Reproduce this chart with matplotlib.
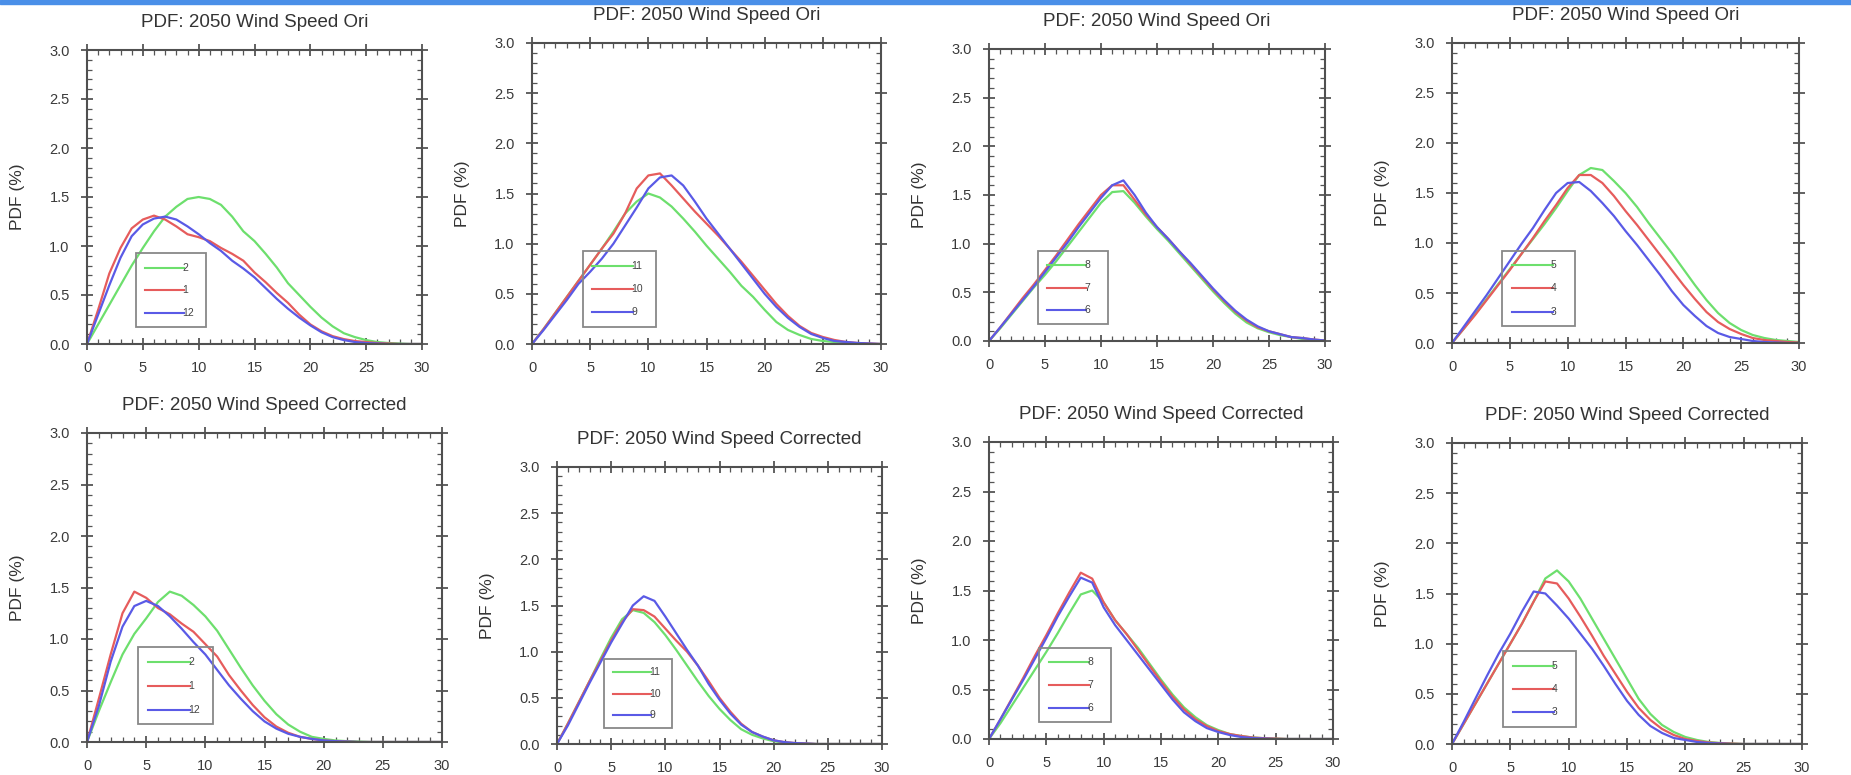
import numpy as np
import matplotlib
matplotlib.use("Agg")
import matplotlib.pyplot as plt
from matplotlib.patches import Rectangle
from matplotlib.ticker import MultipleLocator

plt.rcParams['font.family'] = ['Liberation Sans', 'DejaVu Sans']

# wind speed bins (m/s)
wind = np.arange(0, 31)

# ---- top row: original PDFs (%) ----
ori_2 = [0, 0.2, 0.4, 0.6, 0.8, 0.98, 1.15, 1.3, 1.4, 1.48, 1.5, 1.48, 1.42, 1.3, 1.15, 1.05,
         0.92, 0.78, 0.62, 0.5, 0.38, 0.27, 0.18, 0.11, 0.07, 0.04, 0.02, 0.01, 0.005, 0, 0]
ori_1 = [0, 0.35, 0.72, 0.98, 1.18, 1.27, 1.31, 1.27, 1.2, 1.12, 1.09, 1.05, 0.98, 0.92, 0.85, 0.73,
         0.63, 0.52, 0.42, 0.3, 0.2, 0.13, 0.08, 0.05, 0.03, 0.02, 0.01, 0.005, 0, 0, 0]
ori_12 = [0, 0.3, 0.6, 0.88, 1.1, 1.22, 1.28, 1.3, 1.27, 1.2, 1.12, 1.03, 0.95, 0.85, 0.77, 0.68,
          0.57, 0.46, 0.36, 0.27, 0.19, 0.12, 0.07, 0.04, 0.02, 0.01, 0.005, 0, 0, 0, 0]

ori_11 = [0, 0.15, 0.31, 0.47, 0.63, 0.79, 0.95, 1.12, 1.3, 1.42, 1.5, 1.46, 1.37, 1.25, 1.12, 0.98,
          0.85, 0.72, 0.58, 0.47, 0.34, 0.22, 0.14, 0.09, 0.05, 0.03, 0.02, 0.01, 0.005, 0, 0]
ori_10 = [0, 0.15, 0.31, 0.47, 0.63, 0.79, 0.95, 1.1, 1.3, 1.55, 1.68, 1.7, 1.58, 1.45, 1.32, 1.2,
          1.08, 0.95, 0.82, 0.68, 0.54, 0.4, 0.28, 0.18, 0.11, 0.07, 0.04, 0.02, 0.01, 0.005, 0]
ori_9 = [0, 0.14, 0.29, 0.44, 0.6, 0.72, 0.85, 1.0, 1.18, 1.36, 1.55, 1.66, 1.68, 1.58, 1.42, 1.25,
         1.1, 0.95, 0.8, 0.65, 0.5, 0.37, 0.26, 0.17, 0.1, 0.06, 0.03, 0.02, 0.01, 0.005, 0]

ori_8 = [0, 0.13, 0.27, 0.41, 0.55, 0.68, 0.82, 0.97, 1.12, 1.27, 1.42, 1.53, 1.54, 1.42, 1.28, 1.15,
         1.03, 0.9, 0.77, 0.64, 0.51, 0.39, 0.28, 0.19, 0.13, 0.09, 0.06, 0.04, 0.02, 0.01, 0.005]
ori_7 = [0, 0.14, 0.29, 0.44, 0.58, 0.73, 0.88, 1.04, 1.2, 1.35, 1.5, 1.6, 1.6, 1.45, 1.3, 1.17,
         1.05, 0.92, 0.79, 0.66, 0.53, 0.41, 0.3, 0.21, 0.14, 0.1, 0.07, 0.04, 0.03, 0.015, 0.005]
ori_6 = [0, 0.14, 0.28, 0.42, 0.56, 0.71, 0.86, 1.01, 1.17, 1.32, 1.47, 1.6, 1.65, 1.5, 1.32, 1.17,
         1.05, 0.92, 0.8, 0.67, 0.54, 0.42, 0.31, 0.22, 0.15, 0.1, 0.07, 0.04, 0.03, 0.015, 0.005]

ori_5 = [0, 0.14, 0.29, 0.44, 0.59, 0.74, 0.89, 1.04, 1.19, 1.35, 1.52, 1.68, 1.75, 1.73, 1.62, 1.5,
         1.36, 1.2, 1.05, 0.9, 0.74, 0.58, 0.43, 0.3, 0.2, 0.13, 0.08, 0.05, 0.03, 0.02, 0.01]
ori_4 = [0, 0.14, 0.28, 0.43, 0.58, 0.73, 0.89, 1.05, 1.22, 1.38, 1.55, 1.68, 1.68, 1.6, 1.47, 1.32,
         1.18, 1.03, 0.88, 0.73, 0.58, 0.44, 0.31, 0.21, 0.14, 0.09, 0.05, 0.03, 0.02, 0.01, 0.005]
ori_3 = [0, 0.16, 0.32, 0.48, 0.65, 0.82, 0.99, 1.15, 1.33, 1.5, 1.6, 1.61, 1.52, 1.4, 1.27, 1.12,
         0.98, 0.83, 0.68, 0.52, 0.38, 0.27, 0.17, 0.1, 0.06, 0.04, 0.02, 0.01, 0.005, 0, 0]

# ---- bottom row: corrected PDFs (%) ----
cor_2 = [0, 0.3, 0.58, 0.85, 1.05, 1.2, 1.36, 1.46, 1.42, 1.33, 1.22, 1.08, 0.9, 0.72, 0.55, 0.4,
         0.27, 0.17, 0.1, 0.05, 0.03, 0.015, 0.008, 0.004, 0, 0, 0, 0, 0, 0, 0]
cor_1 = [0, 0.42, 0.85, 1.25, 1.46, 1.4, 1.3, 1.24, 1.15, 1.07, 0.95, 0.83, 0.65, 0.5, 0.36, 0.24,
         0.15, 0.09, 0.05, 0.03, 0.015, 0.008, 0.004, 0, 0, 0, 0, 0, 0, 0, 0]
cor_12 = [0, 0.35, 0.78, 1.12, 1.32, 1.37, 1.32, 1.22, 1.1, 0.97, 0.85, 0.7, 0.55, 0.42, 0.3, 0.2,
          0.13, 0.08, 0.05, 0.03, 0.015, 0.008, 0.004, 0, 0, 0, 0, 0, 0, 0, 0]

cor_11 = [0, 0.22, 0.45, 0.68, 0.92, 1.15, 1.35, 1.45, 1.42, 1.32, 1.18, 1.02, 0.85, 0.68, 0.52, 0.38,
          0.26, 0.16, 0.1, 0.06, 0.03, 0.015, 0.008, 0.004, 0, 0, 0, 0, 0, 0, 0]
cor_10 = [0, 0.22, 0.45, 0.68, 0.9, 1.12, 1.32, 1.46, 1.45, 1.38, 1.25, 1.12, 1.0, 0.85, 0.68, 0.5,
          0.35, 0.22, 0.13, 0.08, 0.04, 0.02, 0.01, 0.005, 0, 0, 0, 0, 0, 0, 0]
cor_9 = [0, 0.2, 0.43, 0.66, 0.88, 1.1, 1.3, 1.5, 1.6, 1.55, 1.38, 1.2, 1.02, 0.85, 0.65, 0.48,
         0.33, 0.21, 0.13, 0.08, 0.04, 0.02, 0.01, 0.005, 0, 0, 0, 0, 0, 0, 0]

cor_8 = [0, 0.16, 0.34, 0.52, 0.7, 0.88, 1.07, 1.27, 1.46, 1.5, 1.38, 1.2, 1.06, 0.92, 0.76, 0.6,
         0.45, 0.32, 0.22, 0.14, 0.09, 0.05, 0.03, 0.015, 0.008, 0.004, 0, 0, 0, 0, 0]
cor_7 = [0, 0.2, 0.41, 0.62, 0.84, 1.05, 1.27, 1.48, 1.68, 1.62, 1.38, 1.2, 1.06, 0.9, 0.74, 0.58,
         0.43, 0.3, 0.2, 0.13, 0.08, 0.05, 0.03, 0.015, 0.008, 0.004, 0, 0, 0, 0, 0]
cor_6 = [0, 0.2, 0.4, 0.6, 0.81, 1.02, 1.24, 1.44, 1.63, 1.58, 1.33, 1.15, 1.0, 0.85, 0.7, 0.55,
         0.4, 0.27, 0.18, 0.11, 0.07, 0.04, 0.02, 0.01, 0.005, 0, 0, 0, 0, 0, 0]

cor_5 = [0, 0.2, 0.4, 0.6, 0.8, 1.0, 1.2, 1.42, 1.65, 1.73, 1.62, 1.45, 1.25, 1.05, 0.85, 0.65,
         0.45, 0.3, 0.19, 0.12, 0.07, 0.04, 0.02, 0.01, 0.005, 0, 0, 0, 0, 0, 0]
cor_4 = [0, 0.2, 0.4, 0.6, 0.8, 1.0, 1.2, 1.42, 1.62, 1.6, 1.45, 1.27, 1.08, 0.88, 0.7, 0.52,
         0.36, 0.24, 0.15, 0.09, 0.05, 0.03, 0.015, 0.008, 0.004, 0, 0, 0, 0, 0, 0]
cor_3 = [0, 0.22, 0.45, 0.68, 0.9, 1.1, 1.32, 1.52, 1.5, 1.38, 1.25, 1.1, 0.95, 0.78, 0.6, 0.43,
         0.29, 0.18, 0.11, 0.06, 0.04, 0.02, 0.01, 0.005, 0, 0, 0, 0, 0, 0, 0]

title_ori = "PDF: 2050 Wind Speed Ori"
title_cor = "PDF: 2050 Wind Speed Corrected"

panels = [
    (title_ori, ["2", "1", "12"], [ori_2, ori_1, ori_12]),
    (title_ori, ["11", "10", "9"], [ori_11, ori_10, ori_9]),
    (title_ori, ["8", "7", "6"], [ori_8, ori_7, ori_6]),
    (title_ori, ["5", "4", "3"], [ori_5, ori_4, ori_3]),
    (title_cor, ["2", "1", "12"], [cor_2, cor_1, cor_12]),
    (title_cor, ["11", "10", "9"], [cor_11, cor_10, cor_9]),
    (title_cor, ["8", "7", "6"], [cor_8, cor_7, cor_6]),
    (title_cor, ["5", "4", "3"], [cor_5, cor_4, cor_3]),
]

# axes boxes in pixels: left, top, right, bottom (the panels are pasted unevenly)
boxes = [
    (87, 50, 422, 344), (532, 43, 881, 344), (989, 49, 1325, 341), (1452, 43, 1799, 343),
    (87, 433, 442, 742), (557, 467, 882, 744), (989, 442, 1333, 739), (1452, 443, 1802, 744),
]

colors = ["#6ddf6d", "#e65c5c", "#5a5ae6"]
W, H = 1851, 775
fig = plt.figure(figsize=(W / 100, H / 100), dpi=100)
fig.patches.append(Rectangle((0, 1 - 4 / H), 1, 4 / H, transform=fig.transFigure,
                             color="#4a8fe8", zorder=0))

for (title, labels, series), (l, t, r, b) in zip(panels, boxes):
    ax = fig.add_axes([l / W, 1 - b / H, (r - l) / W, (b - t) / H])
    for vals, c in zip(series, colors):
        ax.plot(wind, vals, color=c, lw=1.6)
    ax.set_xlim(0, 30)
    ax.set_ylim(0, 3)
    ax.xaxis.set_major_locator(MultipleLocator(5))
    ax.xaxis.set_minor_locator(MultipleLocator(1))
    ax.yaxis.set_major_locator(MultipleLocator(0.5))
    ax.yaxis.set_minor_locator(MultipleLocator(0.1))
    ax.yaxis.set_major_formatter(matplotlib.ticker.FormatStrFormatter("%.1f"))
    ax.tick_params(which="both", top=True, right=True, colors="#555555", labelcolor="#3a3a3a")
    ax.tick_params(which="major", direction="inout", length=9, width=1.3, labelsize=10.5, pad=8)
    ax.tick_params(which="minor", direction="in", length=3.5, width=0.9)
    for s in ax.spines.values():
        s.set_color("#505050")
        s.set_linewidth(1.5)
    ax.set_ylabel("PDF (%)", fontsize=12.5, color="#333333")
    ax.yaxis.set_label_coords(-62 / (r - l), 0.5)
    ax.annotate(title, xy=(0.5, 1), xycoords="axes fraction", xytext=(0, 19.5),
                textcoords="offset points", ha="center", va="center",
                fontsize=13.5, color="#333333")

    # NCL-style legend box
    ax.add_patch(Rectangle((0.145, 0.058), 0.21, 0.25, transform=ax.transAxes,
                           fill=False, ec="#888888", lw=1.3, zorder=5))
    for k, (lab, c) in enumerate(zip(labels, colors)):
        yy = 0.259 - 0.077 * k
        ax.plot([0.173, 0.29], [yy, yy], transform=ax.transAxes, color=c, lw=1.5, zorder=6)
        ax.text(0.285, yy, lab, transform=ax.transAxes, fontsize=7.5, color="#444444",
                va="center", ha="left", zorder=6)

fig.savefig("out.png", dpi=100)
